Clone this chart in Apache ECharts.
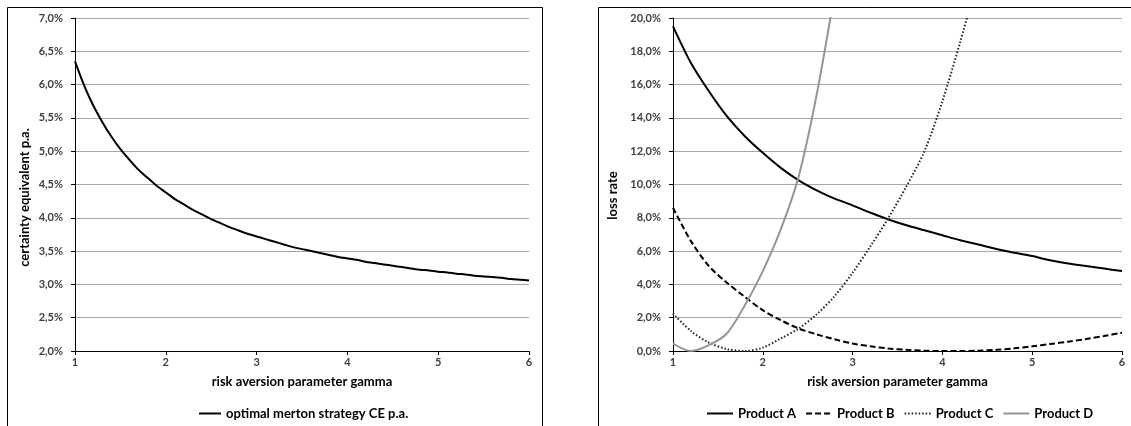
<!DOCTYPE html>
<html>
<head>
<meta charset="utf-8">
<script src="https://cdn.jsdelivr.net/npm/echarts@6/dist/echarts.min.js"></script>
<style>
html,body{margin:0;padding:0;background:#fff;}
#c{width:1131px;height:426px;}
</style>
</head>
<body>
<div id="c"></div>
<script>
// ---- Data ----
const gammaLeft = [1.0,1.1,1.2,1.3,1.4,1.5,1.6,1.7,1.8,1.9,2.0,2.1,2.2,2.3,2.4,2.5,2.6,2.7,2.8,2.9,3.0,3.1,3.2,3.3,3.4,3.5,3.6,3.7,3.8,3.9,4.0,4.1,4.2,4.3,4.4,4.5,4.6,4.7,4.8,4.9,5.0,5.1,5.2,5.3,5.4,5.5,5.6,5.7,5.8,5.9,6.0];
const ceMerton = [6.35,5.99,5.69,5.44,5.22,5.03,4.87,4.72,4.60,4.48,4.38,4.28,4.20,4.12,4.05,3.98,3.92,3.86,3.81,3.76,3.72,3.68,3.64,3.60,3.56,3.53,3.50,3.47,3.44,3.41,3.39,3.37,3.34,3.32,3.30,3.28,3.26,3.24,3.22,3.21,3.19,3.18,3.16,3.15,3.13,3.12,3.11,3.10,3.08,3.07,3.06];

const gammaRight = [1.0,1.2,1.4,1.6,1.8,2.0,2.2,2.4,2.6,2.8,3.0,3.2,3.4,3.6,3.8,4.0,4.2,4.4,4.6,4.8,5.0,5.2,5.4,5.6,5.8,6.0];
const productA = [19.5,17.3,15.6,14.1,12.9,11.9,11.0,10.25,9.65,9.15,8.75,8.3,7.9,7.55,7.25,6.95,6.65,6.4,6.13,5.9,5.7,5.45,5.25,5.1,4.95,4.8];
const productB = [8.6,6.6,5.1,4.1,3.25,2.45,1.85,1.35,1.0,0.7,0.45,0.28,0.15,0.07,0.02,0.0,0.0,0.02,0.07,0.16,0.28,0.42,0.56,0.72,0.9,1.1];
const productC = [2.25,1.2,0.5,0.12,0.0,0.2,0.75,1.35,2.2,3.3,4.7,6.3,8.0,9.9,12.0,15.0,18.6,22.5,null,null,null,null,null,null,null,null];
const productD = [0.45,0.0,0.35,1.05,2.75,4.8,7.3,10.5,15.4,21.5,null,null,null,null,null,null,null,null,null,null,null,null,null,null,null,null];

const leftTicks = ['2,0%','2,5%','3,0%','3,5%','4,0%','4,5%','5,0%','5,5%','6,0%','6,5%','7,0%'];
const rightTicks = ['0,0%','2,0%','4,0%','6,0%','8,0%','10,0%','12,0%','14,0%','16,0%','18,0%','20,0%'];

// ---- Chart ----
const pair = (xs, ys) => xs.map((x, i) => [x, ys[i]]);
const FONT = 'Lato';
const labelStyle = {fontFamily: FONT, fontWeight: 'bold', fontSize: 11, color: '#404040'};
const nameStyle = {fontFamily: FONT, fontWeight: 'bold', fontSize: 13, color: '#000'};

function xAxisCfg(gridIndex) {
  return {
    type: 'value', gridIndex, min: 1, max: 6, interval: 1,
    name: 'risk aversion parameter gamma', nameLocation: 'middle', nameGap: 24,
    nameTextStyle: nameStyle,
    axisLine: {show: true, lineStyle: {color: '#000', width: 1}},
    axisTick: {show: true, inside: false, length: 4, lineStyle: {color: '#000'}},
    axisLabel: Object.assign({margin: 6}, labelStyle),
    splitLine: {show: false}
  };
}
function yAxisCfg(gridIndex, min, max, interval, ticks, name, gap, pad) {
  return {
    type: 'value', gridIndex, min, max, interval,
    name, nameLocation: 'middle', nameGap: gap, nameRotate: 90,
    nameTextStyle: Object.assign({padding: pad}, nameStyle),
    axisLine: {show: true, lineStyle: {color: '#000', width: 1}},
    axisTick: {show: true, inside: false, length: 4, lineStyle: {color: '#000'}},
    axisLabel: Object.assign({margin: 12, formatter: (v) => ticks[Math.round((v - min) / interval)]}, labelStyle),
    splitLine: {show: true, lineStyle: {color: '#a6a6a6', width: 1}}
  };
}

const legendText = {fontFamily: FONT, fontWeight: 'bold', fontSize: 13, color: '#000'};
const chart = echarts.init(document.getElementById('c'), null, {renderer: 'canvas'});
chart.setOption({
  animation: false,
  backgroundColor: '#fff',
  graphic: [
    {type: 'rect', shape: {x: 7.5, y: 7.5, width: 535, height: 430}, style: {fill: 'none', stroke: '#000', lineWidth: 1}, z: -1},
    {type: 'rect', shape: {x: 598.5, y: 7.5, width: 540, height: 430}, style: {fill: 'none', stroke: '#000', lineWidth: 1}, z: -1}
  ],
  grid: [
    {left: 75, right: 602, top: 18, bottom: 75},
    {left: 673, right: 9, top: 18, bottom: 75}
  ],
  xAxis: [xAxisCfg(0), xAxisCfg(1)],
  yAxis: [
    yAxisCfg(0, 2, 7, 0.5, leftTicks, 'certainty equivalent p.a.', 44, [0, 26, 0, 0]),
    yAxisCfg(1, 0, 20, 2, rightTicks, 'loss rate', 54, [0, 22, 0, 0])
  ],
  legend: [
    {data: ['optimal merton strategy CE p.a.'], left: 193, top: 402, itemWidth: 22, itemHeight: 14, itemGap: 10,
     itemStyle: {opacity: 0}, textStyle: legendText},
    {data: ['Product A','Product B','Product C','Product D'], left: 701, top: 402, itemWidth: 26, itemHeight: 14, itemGap: 9,
     itemStyle: {opacity: 0}, textStyle: legendText}
  ],
  series: [
    {name: 'optimal merton strategy CE p.a.', type: 'line', xAxisIndex: 0, yAxisIndex: 0,
     data: pair(gammaLeft, ceMerton), showSymbol: false, symbol: 'none', smooth: 0.2,
     lineStyle: {color: '#000', width: 2}, itemStyle: {color: '#000'}},
    {name: 'Product A', type: 'line', xAxisIndex: 1, yAxisIndex: 1,
     data: pair(gammaRight, productA), showSymbol: false, symbol: 'none', smooth: 0.3,
     lineStyle: {color: '#000', width: 2}, itemStyle: {color: '#000'}},
    {name: 'Product B', type: 'line', xAxisIndex: 1, yAxisIndex: 1,
     data: pair(gammaRight, productB), showSymbol: false, symbol: 'none', smooth: 0.3,
     lineStyle: {color: '#000', width: 2, type: [6, 3]}, itemStyle: {color: '#000'}},
    {name: 'Product C', type: 'line', xAxisIndex: 1, yAxisIndex: 1,
     data: pair(gammaRight, productC), showSymbol: false, symbol: 'none', smooth: 0.3,
     lineStyle: {color: '#222', width: 2, type: [1.5, 2]}, itemStyle: {color: '#222'}},
    {name: 'Product D', type: 'line', xAxisIndex: 1, yAxisIndex: 1,
     data: pair(gammaRight, productD), showSymbol: false, symbol: 'none', smooth: 0.3,
     lineStyle: {color: '#959595', width: 2}, itemStyle: {color: '#959595'}}
  ]
});
</script>
</body>
</html>
